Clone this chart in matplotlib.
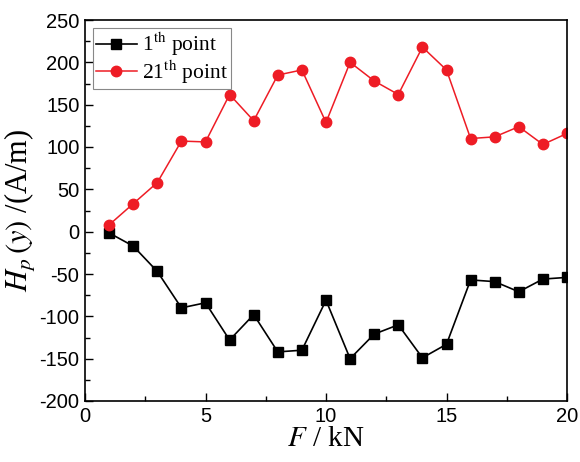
import numpy as np
import matplotlib
matplotlib.use("Agg")
import matplotlib.pyplot as plt
from matplotlib.ticker import MultipleLocator

plt.rcParams['mathtext.fontset'] = 'stix'
plt.rcParams['axes.unicode_minus'] = False

# data
force = [1, 2, 3, 4, 5, 6, 7, 8, 9, 10, 11, 12, 13, 14, 15, 16, 17, 18, 19, 20]
hp_1th = [-1.5, -17, -47, -90, -84, -128, -98, -142, -140, -81,
          -150, -121, -110, -149, -133, -57, -59, -71, -56, -54]
hp_21th = [8, 33, 58, 107, 106, 162, 131, 185, 191, 129,
           200, 178, 162, 218, 191, 110, 112, 124, 103, 116]

fig = plt.figure(figsize=(5.8, 4.62), dpi=100)
ax = fig.add_axes([85/580, 1 - 401/462, (567-85)/580, (401-20)/462])

ax.plot(force, hp_1th, '-s', color='black', lw=1.2, ms=6.5, label=r'1$^{\rm th}$ point')
ax.plot(force, hp_21th, '-o', color='#ee1c25', mec='#ee1c25', lw=1.1, ms=7.5,
        label=r'21$^{\rm th}$ point')

ax.set_xlim(0, 20)
ax.set_ylim(-200, 250)
ax.xaxis.set_major_locator(MultipleLocator(5))
ax.xaxis.set_minor_locator(MultipleLocator(2.5))
ax.yaxis.set_major_locator(MultipleLocator(50))
ax.yaxis.set_minor_locator(MultipleLocator(25))
ax.tick_params(which='both', direction='in', top=False, right=False)
ax.tick_params(which='major', length=6, width=1, labelsize=14.5, pad=4)
ax.tick_params(which='minor', length=3.5, width=1)
for lab in ax.get_xticklabels() + ax.get_yticklabels():
    lab.set_fontfamily('Liberation Sans')
for sp in ax.spines.values():
    sp.set_linewidth(1.2)

ax.set_xlabel(r'$F$ / kN', fontsize=21, family='Liberation Serif', labelpad=0)
ax.set_ylabel(r'$H_p\,(y)$ /(A/m)', fontsize=22, family='Liberation Serif', labelpad=1)

leg = ax.legend(loc='upper left', prop={'family': 'Liberation Serif', 'size': 15.5},
                fancybox=False, edgecolor='#888888', framealpha=1,
                handlelength=1.9, handletextpad=0.25, borderpad=0.15,
                labelspacing=0.0, borderaxespad=0.35)
leg.get_frame().set_linewidth(0.8)

fig.savefig('out.png', dpi=100)
